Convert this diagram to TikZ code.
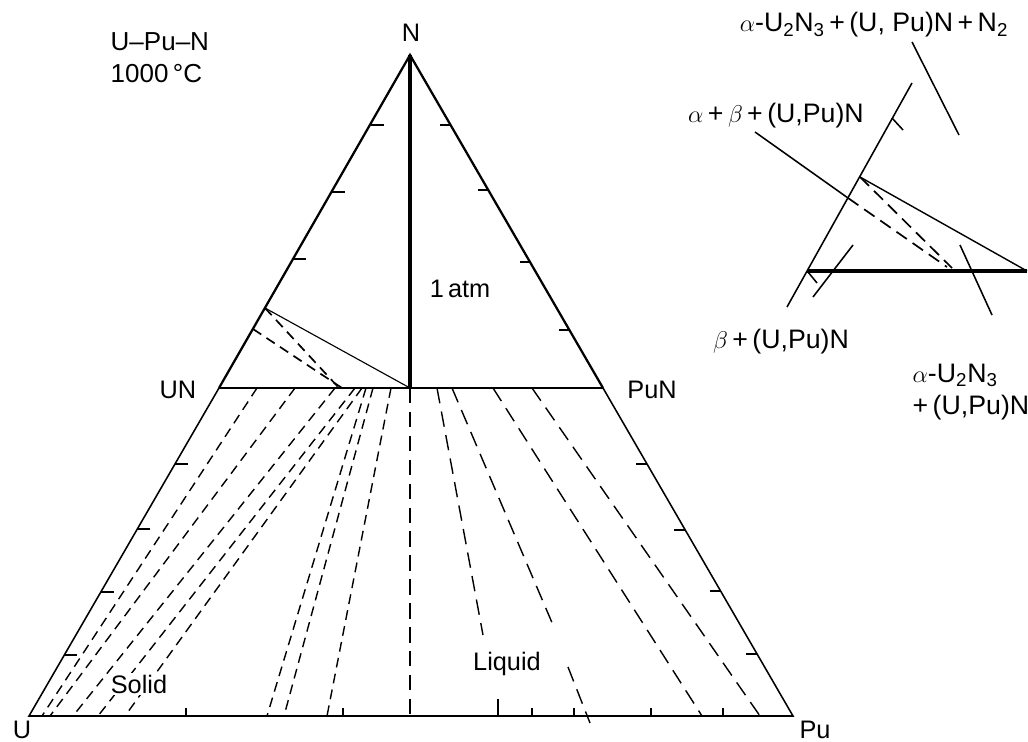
\documentclass[tikz,border=0pt]{standalone}
\usepackage{fontspec}
\setmainfont{Liberation Sans}
\usetikzlibrary{calc}

\begin{document}
\begin{tikzpicture}[x=0.025cm,y=-0.025cm,font=\fontsize{18}{22}\selectfont,
  side/.style={line width=1.6pt},
  lowside/.style={line width=1.1pt},
  axtick/.style={line width=1.1pt},
  isoline/.style={line width=1pt,dash pattern=on 7pt off 4.5pt},
  longdash/.style={line width=1pt,dash pattern=on 11pt off 6pt},
  tie/.style={line width=0.8pt},
  pointer/.style={line width=1.1pt},
  txt/.style={inner sep=1pt,anchor=base},
  insettxt/.style={txt,font=\fontsize{19}{23}\selectfont}]
  \useasboundingbox (0,0) rectangle (1028,742);
  \coordinate (U) at (29,716);
  \coordinate (Pu) at (793,716);
  \coordinate (N) at (410,55);
  \coordinate (UN) at (219,388);
  \coordinate (PuN) at (603,388);
  \coordinate (foot) at (410,388);
  \draw[side] (UN) -- (N) -- (PuN);
  \draw[lowside] (UN) -- (U) -- (Pu) -- (PuN);
  \draw[line width=1.5pt] (UN) -- (PuN);
  \draw[line width=2.2pt] (N) -- (foot);
  \foreach \y in {125,192,259,464,529,592,655}
    \draw[axtick] ({29+(716-\y)*0.578},\y) -- ++(13,0);
  \foreach \y in {125,190,262,330,464,530,591,654}
    \draw[axtick] ({793-(716-\y)*0.578},\y) -- ++(-11,0);
  \foreach \x in {186,343,532,574,651,723}
    \draw[axtick] (\x,716) -- ++(0,-8);
  \draw[axtick] (498,716) -- ++(0,-17);
  \draw[tie] (265,308) -- (foot);
  \draw[isoline,line width=1.2pt] (265,308) -- (339,388);
  \draw[isoline,line width=1.2pt] (253,329) -- (342,388);
  \draw[isoline] (257,388) -- (42,716);
  \draw[isoline] (295,388) -- (50,716);
  \draw[isoline] (335,388) -- (73,716);
  \draw[isoline] (355,388) -- (98,716);
  \draw[isoline] (362,388) -- (125,716);
  \draw[isoline] (366,388) -- (267,716);
  \draw[isoline] (373,388) -- (284,716);
  \draw[isoline] (391,388) -- (327,716);
  \draw[longdash] (foot) -- (410,716);
  \draw[longdash] (437,388) -- (483,635);
  \draw[longdash] (452,388) -- (553,625) (568,667) -- (590,723);
  \draw[longdash] (493,388) -- (702,716);
  \draw[longdash] (532,388) -- (760,716);
  \node[txt,align=left,anchor=north west,font=\fontsize{18.5}{23}\selectfont] (title) at (109,31) {U--Pu--N\\1000\,°C};
  \node[txt] (Nlbl) at (411,42) {N};
  \node[txt] (UNlbl) at (178,398) {UN};
  \node[txt] (PuNlbl) at (652,398) {PuN};
  \node[txt,inner sep=0pt] (Ulbl) at (22,738) {U};
  \node[txt,inner sep=0pt] (Pulbl) at (815,738) {Pu};
  \node[txt] (atm) at (460,297) {1\,atm};
  \node[txt,fill=white] (solid) at (139,693) {Solid};
  \node[txt] (liquid) at (507,670) {Liquid};
  \coordinate (iA) at (807,271);
  \coordinate (iB) at (1027,271);
  \coordinate (iC) at (860,177);
  \coordinate (iD) at (848,198);
  \draw[lowside] (787,307) -- (912,83);
  \draw[line width=2.6pt] (iA) -- (iB);
  \draw[tie,line width=1pt] (iC) -- (iB);
  \draw[isoline,line width=1.2pt,dash pattern=on 9pt off 5pt] (iC) -- (952,268);
  \draw[isoline,line width=1.2pt,dash pattern=on 9pt off 5pt] (iD) -- (947,267);
  \draw[axtick] (892,118) -- (903,130);
  \draw[axtick] (808,272) -- (817,283);
  \node[insettxt] (top) at (874,32)
    {$\alpha$-U\textsubscript{2}N\textsubscript{3}\,+\,(U, Pu)N\,+\,N\textsubscript{2}};
  \node[insettxt] (ab) at (776,122) {$\alpha$\,+\,$\beta$\,+\,(U,Pu)N};
  \node[insettxt] (b) at (781,348) {$\beta$\,+\,(U,Pu)N};
  \node[insettxt,align=left,anchor=north west] (a) at (911,362)
    {$\alpha$-U\textsubscript{2}N\textsubscript{3}\\+\,(U,Pu)N};
  \coordinate (ptop) at (959,135);
  \coordinate (pb) at (853,245);
  \coordinate (pa) at (960,245);
  \draw[pointer] (912,42) -- (ptop);
  \draw[pointer] (755,132) -- (iD);
  \draw[pointer] (813,297) -- (pb);
  \draw[pointer] (pa) -- (992,315);
\end{tikzpicture}
\end{document}
